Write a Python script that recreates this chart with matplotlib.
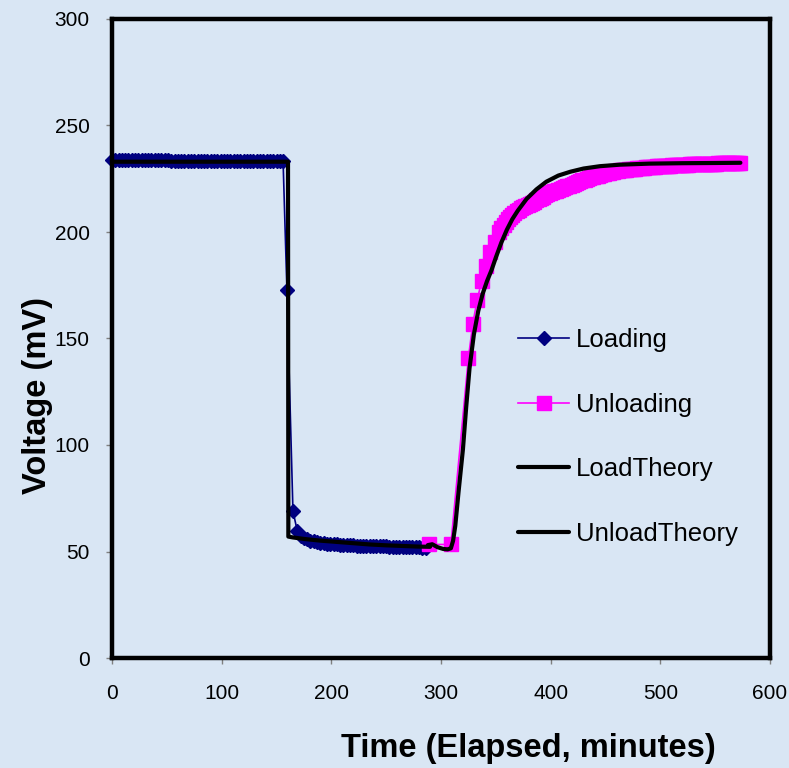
import matplotlib
matplotlib.use("Agg")
import matplotlib.pyplot as plt

plt.rcParams['font.family'] = ['Liberation Sans', 'DejaVu Sans']

# measured loading curve (minutes, mV)
load_time = [0, 3, 6, 9, 12, 15, 18, 21, 24, 27, 30, 33, 36, 39, 42, 45, 48, 51,
             54, 57, 60, 63, 66, 69, 72, 75, 78, 81, 84, 87, 90, 93, 96, 99, 102,
             105, 108, 111, 114, 117, 120, 123, 126, 129, 132, 135, 138, 141, 144,
             147, 150, 153, 156, 159.5, 165, 169, 172, 175, 178, 181, 184, 187,
             190, 193, 196, 199, 202, 205, 208, 211, 214, 217, 220, 223, 226, 229,
             232, 235, 238, 241, 244, 247, 250, 253, 256, 259, 262, 265, 268, 271,
             274, 277, 280, 283, 286]
load_mv = [234.0, 234.0, 233.9, 233.9, 233.9, 233.8, 233.8, 233.8, 233.8, 233.7,
           233.7, 233.7, 233.7, 233.6, 233.6, 233.6, 233.6, 233.6, 233.5, 233.5,
           233.5, 233.5, 233.5, 233.5, 233.4, 233.4, 233.4, 233.4, 233.4, 233.4,
           233.4, 233.4, 233.4, 233.3, 233.3, 233.3, 233.3, 233.3, 233.3, 233.3,
           233.3, 233.3, 233.3, 233.3, 233.3, 233.3, 233.3, 233.3, 233.3, 233.3,
           233.3, 233.3, 233.3, 172.8, 69.0, 59.5, 57.5, 56.5, 55.7, 55.1, 54.7,
           54.4, 54.1, 53.9, 53.7, 53.5, 53.4, 53.3, 53.2, 53.1, 53.0, 52.9, 52.9,
           52.8, 52.8, 52.7, 52.7, 52.6, 52.6, 52.5, 52.5, 52.4, 52.4, 52.3, 52.3,
           52.2, 52.2, 52.1, 52.1, 52.0, 52.0, 51.9, 51.9, 51.8, 51.8]

# measured unloading curve
unload_time = [289, 309, 325, 329, 333, 337, 341, 345, 349,
               353, 355, 357, 359, 361, 363, 365, 367, 369, 371, 373, 375, 377,
               379, 381, 383, 385, 387, 389, 391, 393, 395, 397, 399, 401, 403,
               405, 407, 409, 411, 413, 415, 417, 419, 421, 423, 425, 427, 429,
               431, 433, 435, 437, 439, 441, 443, 445, 447, 449, 451, 453, 455,
               457, 459, 461, 463, 465, 467, 469, 471, 473, 475, 477, 479, 481,
               483, 485, 487, 489, 491, 493, 495, 497, 499, 501, 503, 505, 507,
               509, 511, 513, 515, 517, 519, 521, 523, 525, 527, 529, 531, 533,
               535, 537, 539, 541, 543, 545, 547, 549, 551, 553, 555, 557, 559,
               561, 563, 565, 567, 569, 571, 573]
unload_mv = [53.3, 53.3, 141.0, 157.0, 168.0, 177.0, 184.0, 190.5, 195.5,
             200.0, 201.8, 203.5, 204.8, 206.0, 207.0, 208.0, 208.9, 209.8, 210.5,
             211.2, 211.8, 212.3, 212.8, 213.3, 213.8, 214.3, 214.9, 215.4, 216.0,
             216.6, 217.2, 217.7, 218.2, 218.7, 219.1, 219.4, 219.7, 220.0, 220.5,
             220.9, 221.4, 221.8, 222.2, 222.6, 223.0, 223.4, 223.8, 224.2, 224.6,
             225.0, 225.3, 225.6, 225.9, 226.2, 226.5, 226.7, 227.0, 227.3, 227.6,
             227.8, 228.1, 228.3, 228.5, 228.7, 228.9, 229.0, 229.2, 229.3, 229.5,
             229.6, 229.7, 229.8, 229.9, 230.0, 230.1, 230.2, 230.3, 230.4, 230.5,
             230.6, 230.7, 230.8, 230.9, 231.0, 231.0, 231.1, 231.2, 231.2, 231.3,
             231.3, 231.4, 231.4, 231.5, 231.5, 231.6, 231.6, 231.7, 231.7, 231.8,
             231.8, 231.9, 231.9, 232.0, 232.0, 232.0, 232.0, 232.1, 232.1, 232.1,
             232.2, 232.2, 232.2, 232.2, 232.3, 232.3, 232.3, 232.3, 232.4, 232.4,
             232.4]

# model curves
load_theory_time = [0, 160.5, 160.8, 165, 175, 190, 205, 220, 235, 250, 265, 280, 290]
load_theory_mv = [233.0, 233.0, 57.0, 56.6, 55.9, 55.1, 54.5, 53.9, 53.3, 52.9,
                  52.6, 52.3, 52.2]

unload_theory_time = [288, 292, 297, 302, 306, 309, 311, 313, 316, 320, 323, 326,
                      330, 334, 338, 342, 346, 350, 355, 360, 365, 370, 378, 387,
                      396, 407, 418, 430, 445, 463, 490, 520, 550, 573]
unload_theory_mv = [53.0, 53.4, 52.0, 51.2, 51.0, 51.5, 55.0, 62.0, 78.0, 98.0,
                    118.0, 136.0, 152.0, 163.0, 171.0, 177.0, 182.0, 188.0, 195.0,
                    201.0, 206.0, 210.0, 215.5, 220.0, 223.6, 226.5, 228.3, 229.8,
                    230.9, 231.6, 232.1, 232.3, 232.4, 232.5]

bg = '#d9e6f4'
fig = plt.figure(figsize=(7.89, 7.68), dpi=100, facecolor=bg)
ax = fig.add_axes([112 / 789, 1 - 658 / 768, (770 - 112) / 789, (658 - 19) / 768])
ax.set_facecolor('none')

ax.plot(load_time, load_mv, color='#000080', lw=1.2, marker='D', ms=7,
        mec='#000080', mfc='#000080', label='Loading', clip_on=False)
ax.plot(unload_time, unload_mv, color='#ff00ff', lw=1.2, marker='s', ms=9.5,
        mec='#ff00ff', mfc='#ff00ff', label='Unloading', clip_on=False)
ax.plot(load_theory_time, load_theory_mv, color='black', lw=3.0,
        solid_capstyle='round', solid_joinstyle='round', label='LoadTheory')
ax.plot(unload_theory_time, unload_theory_mv, color='black', lw=3.0,
        solid_capstyle='round', solid_joinstyle='round', label='UnloadTheory')

ax.set_xlim(0, 600)
ax.set_ylim(0, 300)
ax.set_xticks([0, 100, 200, 300, 400, 500, 600])
ax.set_yticks([0, 50, 100, 150, 200, 250, 300])
for s in ax.spines.values():
    s.set_linewidth(3.2)
    s.set_color('black')
ax.tick_params(direction='out', length=4, width=1, color='#808080',
               labelsize=15, pad=15)
ax.tick_params(axis='y', pad=12)

fig.text(528 / 789, 1 - 749 / 768, 'Time (Elapsed, minutes)', fontsize=23.5,
         fontweight='bold', ha='center', va='center')
fig.text(38 / 789, 1 - 396 / 768, 'Voltage (mV)', fontsize=23.5,
         fontweight='bold', ha='center', va='center', rotation=90)

leg = ax.legend(loc='upper left', bbox_to_anchor=(518 / 789, 1 - 328 / 768),
                bbox_transform=fig.transFigure, frameon=False, fontsize=18.5,
                handlelength=2.0, handletextpad=0.25, labelspacing=1.58,
                borderpad=0, borderaxespad=0)

fig.savefig('out.png', dpi=100, facecolor=bg)
